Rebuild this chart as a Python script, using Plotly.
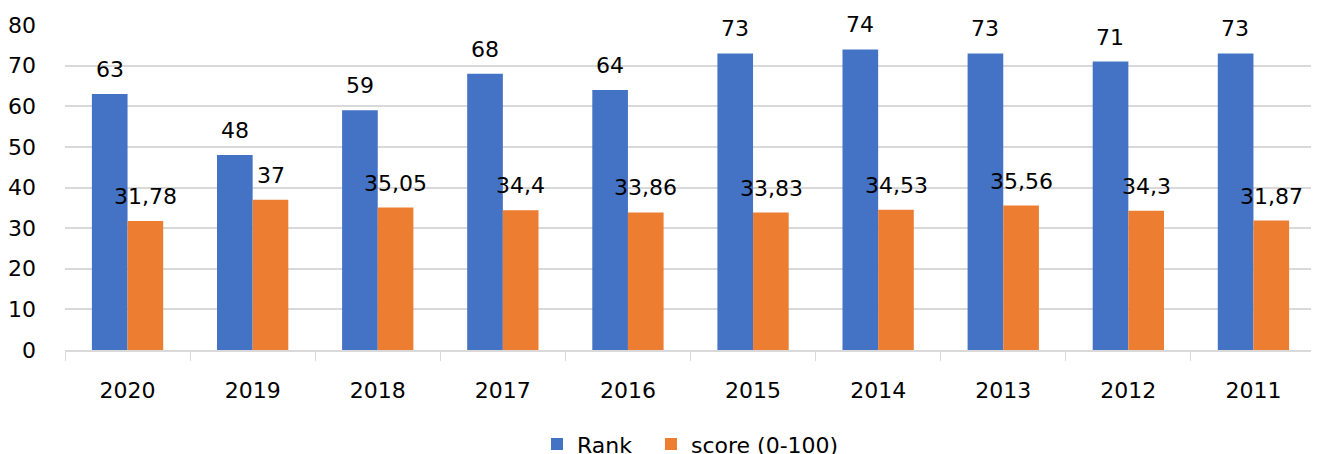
import plotly.graph_objects as go

# data
years = ["2020", "2019", "2018", "2017", "2016", "2015", "2014", "2013", "2012", "2011"]
rank = [63, 48, 59, 68, 64, 73, 74, 73, 71, 73]
score = [31.78, 37, 35.05, 34.4, 33.86, 33.83, 34.53, 35.56, 34.3, 31.87]

blue = "#4472C4"
orange = "#ED7D31"
font = "DejaVu Sans"


def fmt(v):
    # comma as decimal separator, like the source
    s = ("%.2f" % v).rstrip("0").rstrip(".")
    return s.replace(".", ",")


fig = go.Figure()
# nbsp after "Rank" widens the gap between the two legend entries
fig.add_trace(go.Bar(x=years, y=rank, name="Rank\u00a0\u00a0", marker_color=blue,
                     marker_line_width=0))
fig.add_trace(go.Bar(x=years, y=score, name="score (0-100)", marker_color=orange,
                     marker_line_width=0))

# value labels sit a bit higher above the bars than plotly's "outside" text
# (year strings look numeric, so annotations use the category index)
for vals, shift in ((rank, -18), (score, 18)):
    for i, v in enumerate(vals):
        fig.add_annotation(x=i, y=v, text=fmt(v), showarrow=False,
                           xshift=shift, yshift=10, yanchor="bottom",
                           font=dict(family=font, size=22, color="#000000"))

# page body has an 8px margin, so the figure is 8px smaller than the window
fig.update_layout(
    width=1311, height=446,
    margin=dict(l=57, r=3, t=17, b=104, autoexpand=False),
    paper_bgcolor="white", plot_bgcolor="white",
    barmode="group", bargap=0.43, bargroupgap=0,
    font=dict(family=font, size=22, color="#000000"),
    showlegend=True,
    legend=dict(orientation="h", x=0.5, xanchor="center", y=-0.29, yanchor="middle",
                font=dict(family=font, size=22), itemwidth=30, traceorder="normal"),
)
fig.update_xaxes(
    type="category", range=[-0.5, len(years) - 0.5], automargin=False,
    showline=True, linecolor="#d9d9d9", linewidth=2,
    ticks="outside", tickson="boundaries", ticklen=9, tickcolor="#d9d9d9",
    ticklabelstandoff=20,
    tickfont=dict(family=font, size=22), showgrid=False, tickangle=0,
)
fig.update_yaxes(
    range=[0, 80], dtick=10, showgrid=True, gridcolor="#d9d9d9", gridwidth=2,
    zeroline=False, showline=False, ticks="", ticklabelstandoff=28,
    automargin=False, tickfont=dict(family=font, size=22),
)

fig.write_html("out.html")
